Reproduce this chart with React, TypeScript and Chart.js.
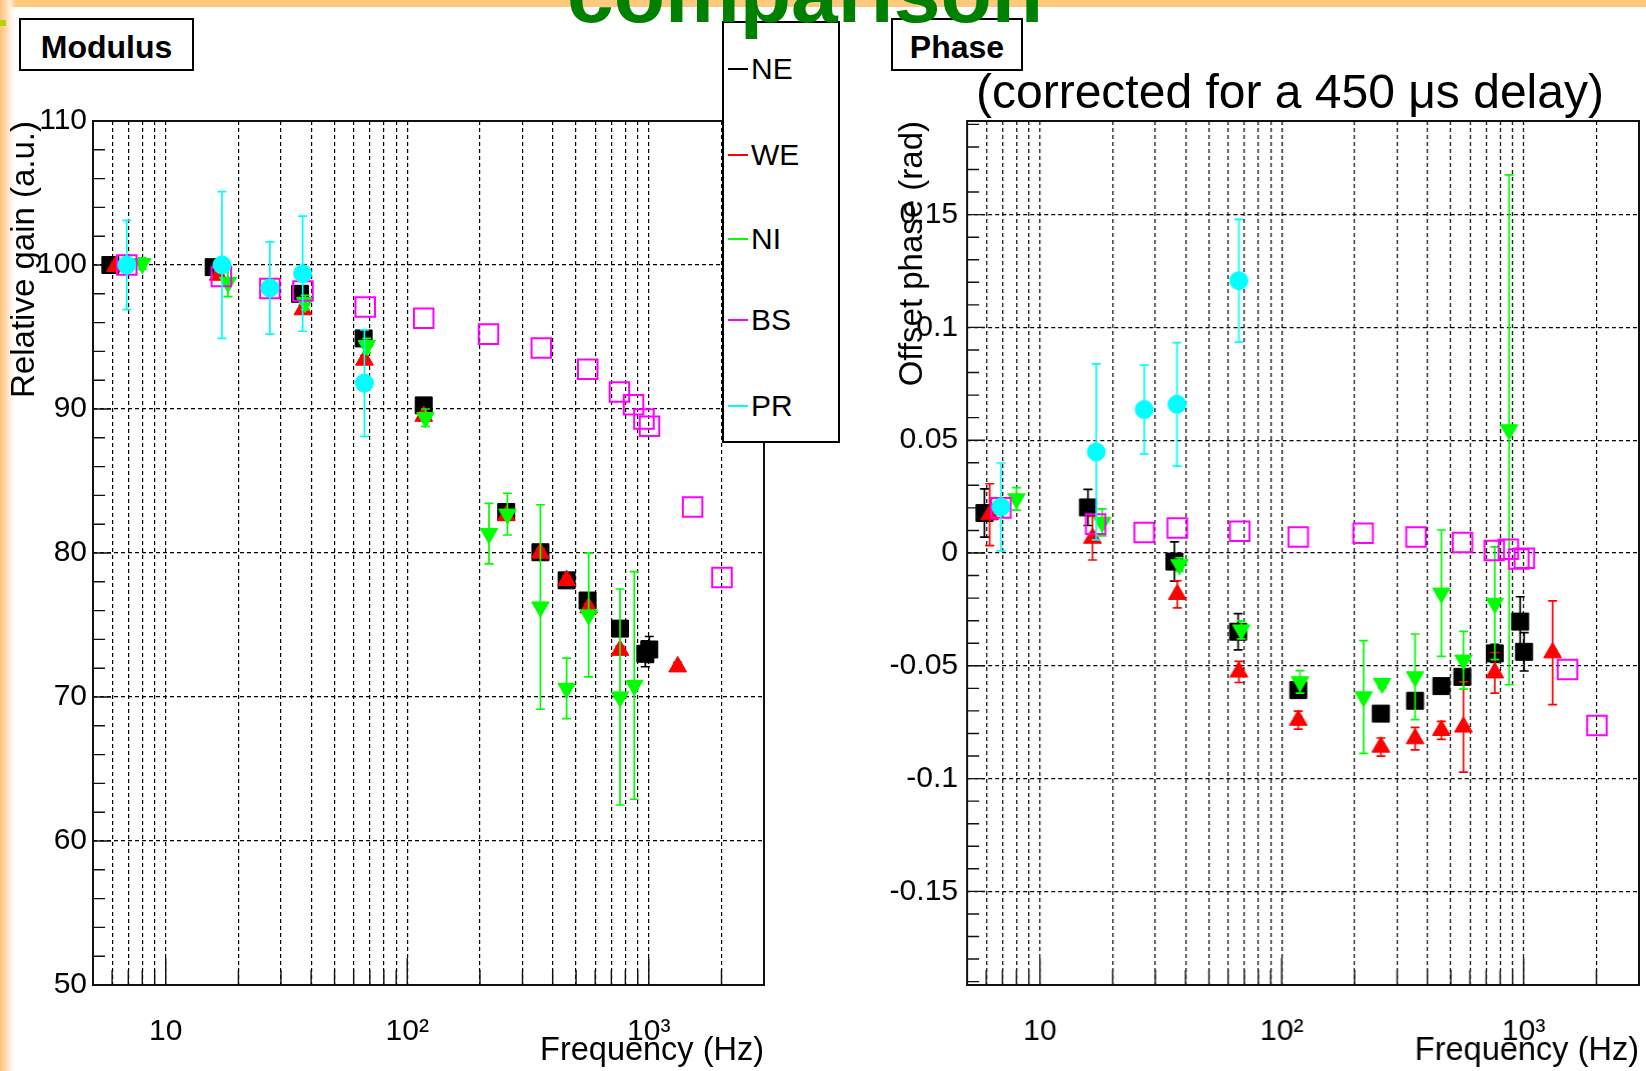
import React, { useEffect, useRef } from 'react';
import { Chart, registerables } from 'chart.js';

Chart.register(...registerables);

const FONT = '"Liberation Sans", Arial, Helvetica, sans-serif';

// ---------- axes ----------
const X_MIN = 5;
const X_MAX = 3000;
const X_MINOR = [6, 7, 8, 9, 20, 30, 40, 50, 60, 70, 80, 90, 200, 300, 400, 500, 600, 700, 800, 900, 2000];
const X_MAJOR = [10, 100, 1000];
const X_LABEL_TEXT = ['10', '10²', '10³'];

const GAIN_MIN = 50;
const GAIN_MAX = 110;
const GAIN_TICKS = [50, 60, 70, 80, 90, 100, 110];
const PHASE_MIN = -0.1915;
const PHASE_MAX = 0.1915;
const PHASE_TICKS = [-0.15, -0.1, -0.05, 0, 0.05, 0.1, 0.15];

// ---------- data ----------
const NE_FREQ = [5.9, 15.8, 36, 66, 117, 257, 356, 457, 558, 760, 968, 1005];
const NE_GAIN = [100.0, 99.85, 98.0, 94.9, 90.25, 82.85, 80.05, 78.1, 76.7, 74.75, 73.0, 73.3];
const NE_GAIN_ERR = [0.3, 0.3, 0.3, 0.3, 0.3, 0.3, 0.3, 0.3, 0.3, 0.3, 0.9, 0.9];
const NE_PHASE = [0.0177, 0.0202, -0.0038, -0.0349, -0.0608, -0.0712, -0.0655, -0.059, -0.0549, -0.0445, -0.0304, -0.0438];
const NE_PHASE_ERR = [0.0107, 0.008, 0.0087, 0.008, 0.003, 0.003, 0.003, 0.003, 0.003, 0.004, 0.011, 0.0085];

const WE_FREQ = [6.2, 16.5, 37, 66.5, 117, 257, 356, 457, 564, 760, 1318];
const WE_GAIN = [99.9, 99.3, 96.9, 93.4, 89.5, 82.6, 80.0, 78.1, 76.2, 73.25, 72.1];
const WE_GAIN_ERR = [0.3, 0.3, 0.3, 0.3, 0.3, 0.3, 0.3, 0.3, 0.3, 0.3, 0.3];
const WE_PHASE = [0.017, 0.0066, -0.0183, -0.0527, -0.0741, -0.086, -0.0823, -0.0786, -0.0771, -0.0531, -0.0442];
const WE_PHASE_ERR = [0.0137, 0.0097, 0.006, 0.0047, 0.004, 0.004, 0.005, 0.004, 0.02, 0.009, 0.023];

const NI_FREQ = [8.0, 18.1, 37.8, 68, 119, 218, 260, 356, 457, 564, 760, 871];
const NI_GAIN = [100.1, 98.8, 97.4, 94.4, 89.4, 81.35, 82.7, 76.25, 70.6, 75.7, 70.0, 70.8];
const NI_GAIN_ERR = [0.4, 1.0, 0.5, 0.5, 0.6, 2.1, 1.45, 7.1, 2.1, 4.3, 7.5, 7.9];
const NI_PHASE = [0.024, 0.0136, -0.0052, -0.0341, -0.0571, -0.0638, -0.0578, -0.0549, -0.0178, -0.0475, -0.0223, 0.0546];
const NI_PHASE_ERR = [0.005, 0.006, 0.003, 0.004, 0.005, 0.025, 0.002, 0.019, 0.028, 0.0128, 0.025, 0.113];

const BS_FREQ = [6.9, 17, 27, 37, 67, 117, 217, 359, 559, 756, 865, 955, 1007, 1519, 2010];
const BS_GAIN = [100.0, 99.2, 98.36, 98.2, 97.08, 96.3, 95.2, 94.24, 92.76, 91.18, 90.3, 89.3, 88.8, 83.2, 78.3];
const BS_GAIN_ERR = [0, 0, 0, 0, 0, 0, 0, 0, 0, 0, 0, 0, 0, 0, 0];
const BS_PHASE = [0.02, 0.0128, 0.0091, 0.0111, 0.0096, 0.0071, 0.0088, 0.0071, 0.0047, 0.0011, 0.0017, -0.0027, -0.0023, -0.0516, -0.0765];
const BS_PHASE_ERR = [0, 0, 0, 0, 0, 0, 0, 0, 0, 0, 0, 0, 0, 0, 0];

const PR_FREQ = [6.9, 17.1, 27.0, 36.9, 66.5];
const PR_GAIN = [100.0, 100.0, 98.4, 99.4, 91.8];
const PR_GAIN_ERR = [3.1, 5.1, 3.2, 4.0, 3.7];
const PR_PHASE = [0.0204, 0.0448, 0.0636, 0.0659, 0.1207];
const PR_PHASE_ERR = [0.0195, 0.039, 0.0197, 0.0274, 0.0272];

const SERIES = [
  { name: 'NE', color: '#000000', style: 'rect', rotation: 0, radius: 12.0, hollow: false, freq: NE_FREQ, gain: NE_GAIN, gainErr: NE_GAIN_ERR, phase: NE_PHASE, phaseErr: NE_PHASE_ERR },
  { name: 'WE', color: '#ff0000', style: 'triangle', rotation: 0, radius: 10.3, hollow: false, freq: WE_FREQ, gain: WE_GAIN, gainErr: WE_GAIN_ERR, phase: WE_PHASE, phaseErr: WE_PHASE_ERR },
  { name: 'NI', color: '#00ff00', style: 'triangle', rotation: 180, radius: 10.1, hollow: false, freq: NI_FREQ, gain: NI_GAIN, gainErr: NI_GAIN_ERR, phase: NI_PHASE, phaseErr: NI_PHASE_ERR },
  { name: 'BS', color: '#ff00ff', style: 'rect', rotation: 0, radius: 13.8, hollow: true, freq: BS_FREQ, gain: BS_GAIN, gainErr: BS_GAIN_ERR, phase: BS_PHASE, phaseErr: BS_PHASE_ERR },
  { name: 'PR', color: '#00ffff', style: 'circle', rotation: 0, radius: 9.0, hollow: false, freq: PR_FREQ, gain: PR_GAIN, gainErr: PR_GAIN_ERR, phase: PR_PHASE, phaseErr: PR_PHASE_ERR },
];

function minorTicks(start: number, end: number, step: number, skip: number): number[] {
  const out: number[] = [];
  const n = Math.round((end - start) / step);
  for (let i = 0; i <= n; i++) {
    const v = +(start + i * step).toFixed(6);
    const r = v / skip;
    if (Math.abs(r - Math.round(r)) > 1e-6) out.push(v);
  }
  return out;
}
const GAIN_MINOR = minorTicks(50, 110, 2, 10);
const PHASE_MINOR = minorTicks(-0.19, 0.19, 0.01, 0.05);

// ---------- plugins ----------
const errorBarsPlugin = {
  id: 'errorBars',
  beforeDatasetDraw(chart: any, args: any) {
    const ds = chart.data.datasets[args.index];
    const errs: number[] | undefined = ds.errors;
    if (!errs) return;
    const { ctx, chartArea: a, scales } = chart;
    ctx.save();
    ctx.beginPath();
    ctx.rect(a.left, a.top, a.right - a.left, a.bottom - a.top);
    ctx.clip();
    ctx.strokeStyle = ds.errorColor;
    ctx.lineWidth = 1.7;
    const cap = 4.5;
    ds.data.forEach((p: any, i: number) => {
      const e = errs[i];
      if (!e) return;
      const x = scales.x.getPixelForValue(p.x);
      const y1 = scales.y.getPixelForValue(p.y + e);
      const y2 = scales.y.getPixelForValue(p.y - e);
      ctx.beginPath();
      ctx.moveTo(x, y1);
      ctx.lineTo(x, y2);
      ctx.moveTo(x - cap, y1);
      ctx.lineTo(x + cap, y1);
      ctx.moveTo(x - cap, y2);
      ctx.lineTo(x + cap, y2);
      ctx.stroke();
    });
    ctx.restore();
  },
};

function makeFramePlugin(yMinor: number[], yMajor: number[]) {
  return {
    id: 'rootFrame',
    beforeDatasetsDraw(chart: any) {
      const { ctx, chartArea: a, scales } = chart;
      ctx.save();
      ctx.strokeStyle = '#111';
      ctx.lineWidth = 1.4;
      ctx.beginPath();
      X_MINOR.forEach((v) => {
        const x = scales.x.getPixelForValue(v);
        ctx.moveTo(x, a.bottom);
        ctx.lineTo(x, a.bottom - 15);
      });
      X_MAJOR.forEach((v) => {
        const x = scales.x.getPixelForValue(v);
        ctx.moveTo(x, a.bottom);
        ctx.lineTo(x, a.bottom - 27);
      });
      yMinor.forEach((v) => {
        const y = scales.y.getPixelForValue(v);
        ctx.moveTo(a.left, y);
        ctx.lineTo(a.left + 12, y);
      });
      yMajor.forEach((v) => {
        const y = scales.y.getPixelForValue(v);
        ctx.moveTo(a.left, y);
        ctx.lineTo(a.left + 18, y);
      });
      ctx.stroke();
      ctx.lineWidth = 2;
      ctx.strokeRect(a.left, a.top, a.right - a.left, a.bottom - a.top);
      ctx.restore();
    },
  };
}

type Kind = 'gain' | 'phase';

function buildConfig(kind: Kind): any {
  const isGain = kind === 'gain';
  const yTicks = isGain ? GAIN_TICKS : PHASE_TICKS;
  const yMinor = isGain ? GAIN_MINOR : PHASE_MINOR;
  return {
    type: 'scatter',
    data: {
      datasets: SERIES.map((s, i) => ({
        label: s.name,
        data: s.freq.map((f, j) => ({ x: f, y: isGain ? s.gain[j] : s.phase[j] })),
        errors: isGain ? s.gainErr : s.phaseErr,
        errorColor: s.color,
        pointStyle: s.style,
        pointRotation: s.rotation,
        pointRadius: s.radius,
        pointHoverRadius: s.radius,
        pointBackgroundColor: s.hollow ? 'rgba(0,0,0,0)' : s.color,
        pointBorderColor: s.color,
        pointBorderWidth: s.hollow ? 2 : 1,
        showLine: false,
        order: SERIES.length - i,
      })),
    },
    options: {
      responsive: false,
      animation: false,
      events: [],
      layout: { padding: { left: 0, top: 121, right: 36, bottom: 0 } },
      plugins: { legend: { display: false }, tooltip: { enabled: false }, title: { display: false } },
      scales: {
        x: {
          type: 'logarithmic',
          position: 'bottom',
          min: X_MIN,
          max: X_MAX,
          afterBuildTicks: (s: any) => {
            s.ticks = [...X_MINOR, ...X_MAJOR].sort((p, q) => p - q).map((v) => ({ value: v }));
          },
          afterFit: (s: any) => {
            s.height = 86;
          },
          ticks: {
            autoSkip: false,
            maxRotation: 0,
            minRotation: 0,
            padding: 0,
            color: '#000',
            font: { family: FONT, size: 30 },
            callback: (v: number) => {
              const k = X_MAJOR.indexOf(v);
              return k >= 0 ? X_LABEL_TEXT[k] : '';
            },
          },
          grid: { color: '#000', lineWidth: 1.2, drawTicks: true, tickLength: 29, tickColor: 'rgba(0,0,0,0)' },
          border: { display: false, dash: [4, 3] },
          title: {
            display: true,
            text: 'Frequency (Hz)',
            align: 'end',
            color: '#000',
            font: { family: FONT, size: 32.5 },
            padding: { top: 0, bottom: 0 },
          },
        },
        y: {
          type: 'linear',
          position: 'left',
          min: isGain ? GAIN_MIN : PHASE_MIN,
          max: isGain ? GAIN_MAX : PHASE_MAX,
          afterBuildTicks: (s: any) => {
            s.ticks = yTicks.map((v) => ({ value: v }));
          },
          afterFit: (s: any) => {
            s.width = isGain ? 93 : 79;
          },
          ticks: {
            padding: isGain ? 6 : 9,
            color: '#000',
            font: { family: FONT, size: 30 },
            callback: (v: number) => String(Math.round(v * 100) / 100),
          },
          grid: { color: '#000', lineWidth: 1.2, drawTicks: false },
          border: { display: false, dash: [4, 3] },
          title: {
            display: true,
            text: isGain ? 'Relative gain (a.u.)' : 'Offset phase (rad)',
            align: 'end',
            color: '#000',
            font: { family: FONT, size: 33 },
            padding: { top: 5, bottom: 0 },
          },
        },
      },
    },
    plugins: [errorBarsPlugin, makeFramePlugin(yMinor, yTicks)],
  };
}

function Plot({ kind, left, width }: { kind: Kind; left: number; width: number }) {
  const ref = useRef<HTMLCanvasElement>(null);
  useEffect(() => {
    const chart = new Chart(ref.current as HTMLCanvasElement, buildConfig(kind));
    return () => chart.destroy();
  }, [kind]);
  return (
    <canvas
      ref={ref}
      width={width}
      height={1071}
      style={{ position: 'absolute', left, top: 0, width, height: 1071 }}
    />
  );
}

const boxStyle: React.CSSProperties = {
  position: 'absolute',
  boxSizing: 'border-box',
  border: '2px solid #000',
  background: '#fff',
  display: 'flex',
  alignItems: 'center',
  justifyContent: 'center',
  paddingTop: 5,
  fontFamily: FONT,
  fontWeight: 'bold',
  fontSize: 32,
  color: '#000',
};

const LEGEND_Y = [46, 132, 216, 297, 383];

export default function App() {
  return (
    <div
      style={{
        position: 'fixed',
        left: 0,
        top: 0,
        width: 1646,
        height: 1071,
        background: '#fff',
        overflow: 'hidden',
        fontFamily: FONT,
      }}
    >
      <div style={{ position: 'absolute', left: 0, top: 0, width: 1646, height: 7, background: '#ffc97c' }} />
      <div
        style={{
          position: 'absolute',
          left: 0,
          top: 0,
          width: 16,
          height: 1071,
          background: 'linear-gradient(to right, #ffc27a 0px, #ffd6a3 5px, #fff0dd 10px, rgba(255,255,255,0) 16px)',
        }}
      />
      <div style={{ position: 'absolute', left: 0, top: 20, width: 6, height: 6, background: '#b8d400' }} />

      <Plot kind="gain" left={0} width={800} />
      <Plot kind="phase" left={888} width={786.5} />

      <div style={{ ...boxStyle, left: 19, top: 18, width: 175, height: 53 }}>Modulus</div>
      <div style={{ ...boxStyle, left: 891, top: 18, width: 132, height: 53 }}>Phase</div>

      <div
        style={{
          position: 'absolute',
          left: 976,
          top: 68,
          fontSize: 48,
          lineHeight: '48px',
          whiteSpace: 'nowrap',
          color: '#000',
        }}
      >
        (corrected for a 450 μs delay)
      </div>

      <div
        style={{
          position: 'absolute',
          boxSizing: 'border-box',
          left: 722,
          top: 21,
          width: 118,
          height: 422,
          border: '2px solid #000',
          background: '#fff',
        }}
      >
        {SERIES.map((s, i) => (
          <div key={s.name} style={{ position: 'absolute', left: 0, top: LEGEND_Y[i] - 20, height: 40, width: 114 }}>
            <div style={{ position: 'absolute', left: 4, top: 19, width: 20, height: 2, background: s.color }} />
            <div
              style={{
                position: 'absolute',
                left: 27,
                top: 0,
                height: 40,
                lineHeight: '40px',
                fontSize: 30,
                color: '#000',
              }}
            >
              {s.name}
            </div>
          </div>
        ))}
      </div>

      <div
        style={{
          position: 'absolute',
          left: 567,
          top: -49,
          fontSize: 84,
          lineHeight: '84px',
          fontWeight: 'bold',
          color: '#008000',
          whiteSpace: 'nowrap',
        }}
      >
        comparison
      </div>
    </div>
  );
}
